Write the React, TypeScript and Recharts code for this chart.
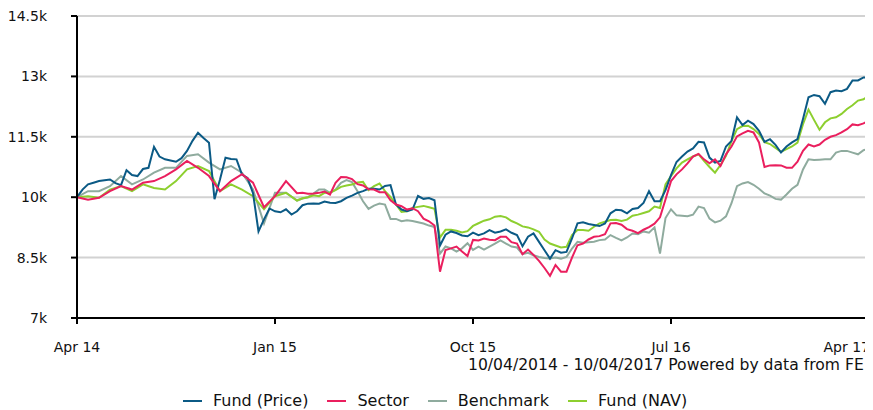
import React from "react";
import { LineChart, Line, XAxis, YAxis, CartesianGrid, ReferenceLine, Legend } from "recharts";

const xTickLabels = ["Apr 14", "Jan 15", "Oct 15", "Jul 16", "Apr 17"];
const xTickValues = [0, 9, 18, 27, 36];
const yTickValues = [7000, 8500, 10000, 11500, 13000, 14500];
const yTickLabels = ["7k", "8.5k", "10k", "11.5k", "13k", "14.5k"];

// Fund (Price): quarter-month samples, 10/04/2014 .. 10/04/2017
const fundPrice = [
  10000, 10190, 10320, 10360, 10400, 10420, 10440, 10350, 10300, 10670,
  10550, 10525, 10700, 10730, 11250, 11010, 10940, 10910, 10880, 10970,
  11150, 11400, 11600, 11470, 11350, 9950, 10440, 10980, 10950, 10940,
  10560, 10480, 10100, 9150, 9450, 9720, 9650, 9625, 9700, 9570,
  9650, 9801, 9840, 9842, 9840, 9892, 9860, 9859, 9900, 9983,
  10040, 10108, 10150, 10207, 10210, 10190, 10280, 10300, 9820, 9693,
  9650, 9693, 10030, 9959, 9980, 9925, 8800, 9067, 9150, 9110,
  9050, 9030, 9120, 9059, 9100, 9184, 9120, 9150, 9200, 9117,
  9060, 8784, 9020, 9100, 8890, 8684, 8475, 8684, 8620, 8642,
  8975, 9350, 9375, 9334, 9310, 9283, 9350, 9600, 9690, 9675,
  9600, 9708, 9730, 9858, 10150, 9900, 9900, 10175, 10550, 10875,
  11010, 11133, 11210, 11375, 11360, 10983, 10860, 10900, 11260, 11400,
  11980, 11792, 11900, 11817, 11650, 11375, 11440, 11300, 11110, 11258,
  11360, 11442, 11940, 12483, 12540, 12508, 12320, 12608, 12650, 12633,
  12690, 12900, 12900, 12975, 12960,
];

// other series: half-month samples to Feb 2015, then quarter-month samples
const sectorEarly = [
  10000, 9940, 9985, 10150, 10275, 10190, 10360, 10400, 10525, 10690,
  10900, 10730, 10525, 10150, 10400, 10570, 10360, 9750, 10025, 10400,
];
const sectorLate = [
  10100, 10108, 10083, 10091, 10108, 10141, 10066, 10356, 10500, 10497,
  10450, 10323, 10290, 10199, 10190, 10124, 10124, 9925, 9818, 9776,
  9693, 9726, 9652, 9469, 9403, 9295, 8150, 8690, 8730, 8775,
  8650, 8540, 8940, 8924, 8975, 8942, 8933, 9017, 9017, 8884,
  8850, 8584, 8700, 8567, 8417, 8242, 8050, 8317, 8150, 8150,
  8500, 8808, 8850, 8950, 9017, 9033, 9083, 9350, 9358, 9317,
  9208, 9167, 9108, 9192, 9258, 9342, 9500, 9942, 10400, 10567,
  10690, 10842, 11010, 11075, 10940, 10842, 10940, 10775, 11065, 11258,
  11510, 11583, 11650, 11608, 11360, 10750, 10790, 10792, 10790, 10733,
  10730, 10883, 11150, 11308, 11260, 11308, 11425, 11500, 11540, 11608,
  11690, 11808, 11790, 11833, 11900,
];
const benchmarkEarly = [
  10000, 10150, 10150, 10275, 10525, 10320, 10440, 10610, 10730, 10730,
  11025, 11065, 10860, 10690, 10775, 10610, 10190, 9350, 10110, 10110,
];
const benchmarkLate = [
  9917, 9967, 10000, 10091, 10190, 10190, 10108, 10190, 10356, 10423,
  10373, 10149, 9900, 9710, 9793, 9842, 9818, 9461, 9461, 9403,
  9428, 9411, 9378, 9345, 9295, 9262, 8600, 8775, 8730, 8650,
  8730, 8858, 8690, 8773, 8700, 8775, 8850, 8925, 8850, 8775,
  8750, 8584, 8617, 8559, 8517, 8492, 8475, 8500, 8475, 8517,
  8725, 8892, 8867, 8884, 8892, 8934, 8950, 9059, 8990, 8925,
  9000, 9100, 9080, 9150, 9120, 9250, 8600, 9483, 9700, 9550,
  9540, 9525, 9565, 9767, 9730, 9467, 9375, 9417, 9525, 9850,
  10275, 10342, 10375, 10308, 10210, 10092, 10040, 9958, 9940, 10067,
  10210, 10308, 10690, 10942, 10925, 10933, 10940, 10942, 11110, 11150,
  11150, 11108, 11065, 11167, 11210,
];
const fundNavEarly = [
  10000, 10025, 9985, 10190, 10275, 10150, 10320, 10230, 10190, 10400,
  10690, 10775, 10650, 10150, 10320, 10190, 10025, 9700, 10025, 10110,
];
const fundNavLate = [
  9917, 9975, 10000, 10050, 10025, 10108, 10108, 10174, 10257, 10290,
  10315, 10365, 10380, 10174, 10274, 10340, 10149, 10008, 9818, 9635,
  9652, 9735, 9760, 9784, 9750, 9710, 9000, 9190, 9190, 9167,
  9125, 9158, 9287, 9353, 9417, 9450, 9517, 9533, 9500, 9408,
  9350, 9275, 9250, 9200, 9142, 8950, 8850, 8800, 8750, 8767,
  9058, 9183, 9183, 9167, 9267, 9350, 9392, 9433, 9442, 9408,
  9442, 9542, 9567, 9608, 9650, 9767, 9733, 10317, 10525, 10717,
  10860, 10942, 11010, 11067, 10900, 10750, 10610, 10800, 11025, 11392,
  11690, 11767, 11775, 11692, 11570, 11367, 11320, 11225, 11125, 11192,
  11260, 11358, 11815, 12175, 11920, 11675, 11860, 11958, 11985, 12067,
  12190, 12283, 12400, 12433, 12525,
];

const seriesNames = ["Fund (Price)", "Sector", "Benchmark", "Fund (NAV)"];
const seriesColors = ["#0b5a85", "#ea1f5e", "#8fab9e", "#8dcf2f"];
const footerText = "10/04/2014 - 10/04/2017 Powered by data from FE";

const toRows = (early: number[], late: number[]) => [
  ...early.map((v, i) => ({ m: i / 2, v })),
  ...late.map((v, j) => ({ m: early.length / 2 + j / 4, v })),
];
const priceData = fundPrice.map((v, j) => ({ m: j / 4, v }));
const sectorData = toRows(sectorEarly, sectorLate);
const benchData = toRows(benchmarkEarly, benchmarkLate);
const navData = toRows(fundNavEarly, fundNavLate);

const FONT = "'DejaVu Sans', sans-serif";

const XTick = (props: any) => {
  const { x, y, payload } = props;
  const last = payload.value === xTickValues[xTickValues.length - 1];
  return (
    <text
      x={last ? x + 1 : x}
      y={y}
      dy="0.71em"
      textAnchor={last ? "end" : "middle"}
      fill="#111"
      fontSize={14}
      fontFamily={FONT}
    >
      {xTickLabels[xTickValues.indexOf(payload.value)]}
    </text>
  );
};

const LegendContent = () => (
  <div style={{ fontFamily: FONT, color: "#111", width: 865, height: 52, position: "relative" }}>
    <div style={{ position: "absolute", left: 460, top: -1, fontSize: 15.6, lineHeight: "16px", whiteSpace: "nowrap" }}>
      {footerText}
    </div>
    <div
      style={{
        position: "absolute",
        top: 35,
        left: 175,
        display: "flex",
        fontSize: 16,
        lineHeight: "16px",
        whiteSpace: "nowrap",
      }}
    >
      {seriesNames.map((n, i) => (
        <div key={n} style={{ display: "flex", alignItems: "center", marginRight: 19 }}>
          <span style={{ display: "inline-block", width: 19, height: 2, background: seriesColors[i], marginRight: 11 }} />
          <span>{n}</span>
        </div>
      ))}
    </div>
  </div>
);

export default function App() {
  return (
    <LineChart width={865} height={402} margin={{ top: 8, right: 4, left: 0, bottom: 0 }}>
      <CartesianGrid horizontal vertical={false} stroke="#d2d2d2" strokeWidth={2} />
      <ReferenceLine x={36} stroke="#d2d2d2" strokeWidth={2} />
      <XAxis
        dataKey="m"
        type="number"
        domain={[0, 36]}
        ticks={xTickValues}
        height={40}
        tickSize={6}
        tickMargin={18}
        axisLine={{ stroke: "#000", strokeWidth: 2 }}
        tickLine={{ stroke: "#000", strokeWidth: 2 }}
        tick={<XTick />}
        interval={0}
        allowDuplicatedCategory={false}
      />
      <YAxis
        type="number"
        domain={[7000, 14500]}
        ticks={yTickValues}
        tickFormatter={(v) => yTickLabels[yTickValues.indexOf(v)]}
        width={69}
        tickSize={6}
        tickMargin={24}
        axisLine={{ stroke: "#000", strokeWidth: 2 }}
        tickLine={{ stroke: "#000", strokeWidth: 2 }}
        tick={{ fill: "#111", fontSize: 14, fontFamily: FONT }}
        interval={0}
      />
      <Legend
        verticalAlign="bottom"
        height={52}
        wrapperStyle={{ left: 0, width: 865 }}
        content={<LegendContent />}
      />
      <Line data={benchData} dataKey="v" name="Benchmark" stroke={seriesColors[2]} strokeWidth={2} dot={false} isAnimationActive={false} />
      <Line data={navData} dataKey="v" name="Fund (NAV)" stroke={seriesColors[3]} strokeWidth={2} dot={false} isAnimationActive={false} />
      <Line data={priceData} dataKey="v" name="Fund (Price)" stroke={seriesColors[0]} strokeWidth={2} dot={false} isAnimationActive={false} />
      <Line data={sectorData} dataKey="v" name="Sector" stroke={seriesColors[1]} strokeWidth={2} dot={false} isAnimationActive={false} />
    </LineChart>
  );
}
